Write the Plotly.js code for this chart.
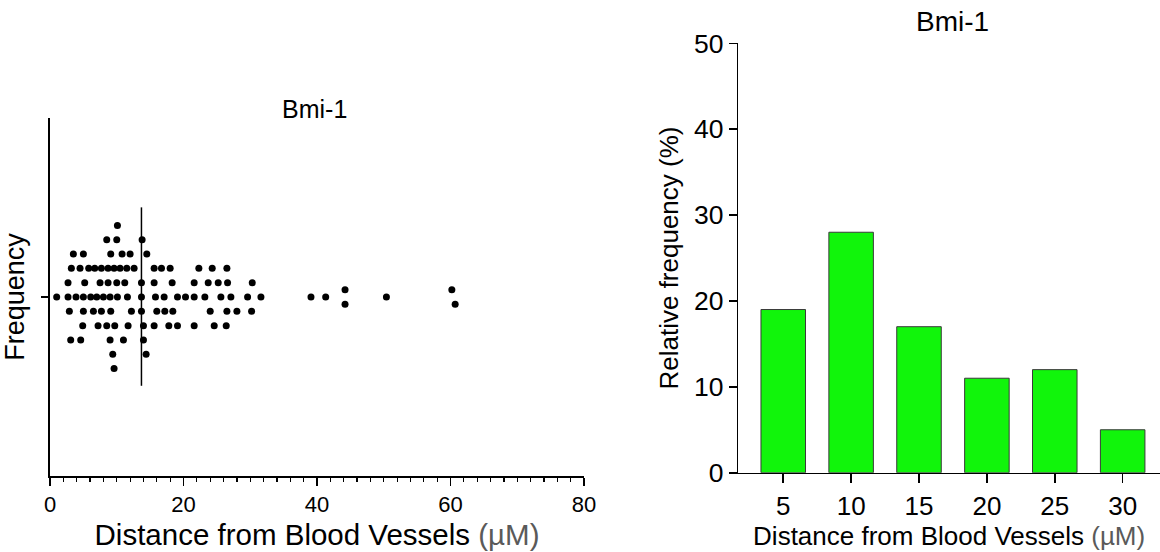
<!DOCTYPE html>
<html>
<head>
<meta charset="utf-8">
<script src="https://cdn.plot.ly/plotly-3.0.1.min.js"></script>
<style>html,body{margin:0;padding:0;background:#fff;}#chart{width:1160px;height:552px;}</style>
</head>
<body>
<div id="chart"></div>
<script>
// ---- Data ----
// Left: dot plot of individual distances (µM) and their stacking row in the swarm
const dotDistance = [
  10.1,
  8.5, 10.0, 13.8,
  3.5, 5.0, 9.1, 10.8, 12.0, 14.5,
  3.2, 4.5, 5.8, 6.7, 7.7, 8.7, 9.6, 10.5, 11.5, 12.6, 15.6, 16.7, 18.0, 22.3, 24.3, 26.5,
  2.7, 5.2, 7.5, 8.7, 10.0, 11.2, 13.7, 15.6, 18.3, 21.6, 23.7, 25.2, 26.6, 30.3,
  1.0, 2.7, 3.9, 5.0, 6.1, 7.0, 8.0, 9.0, 10.1, 11.6, 13.7, 15.8, 17.1, 19.1, 20.3, 21.6, 23.2, 25.6, 27.1, 29.6, 31.6, 39.1, 41.3, 50.4,
  44.2, 60.2,
  44.2, 60.7,
  2.9, 5.0, 6.5, 7.7, 9.1, 12.2, 13.7, 16.0, 17.2, 18.4, 24.0, 26.5, 28.0, 30.2,
  4.9, 7.2, 8.5, 9.7, 11.7, 14.0, 15.6, 17.8, 19.1, 21.6, 24.6, 26.4,
  3.1, 4.6, 9.0, 11.0, 14.0,
  9.4, 14.4,
  9.6
];
const dotRowCounts = [1, 3, 6, 16, 14, 24, 2, 2, 14, 12, 5, 2, 1];
const dotRowLevels = [5, 4, 3, 2, 1, 0, 0.5, -0.5, -1, -2, -3, -4, -5];
const medianDistance = 13.7;
const medianSpan = [-6.2, 6.26];

// Right: histogram of relative frequency
const binCenters = [5, 10, 15, 20, 25, 30];
const relFrequency = [19, 28, 17, 11, 12, 5];
const leftXTicks = [0, 20, 40, 60, 80];
const rightYTicks = [0, 10, 20, 30, 40, 50];

// expand row levels
const dotRow = [];
dotRowCounts.forEach((n, i) => { for (let k = 0; k < n; k++) dotRow.push(dotRowLevels[i]); });

const FONT = 'Liberation Sans, Arial, Helvetica, sans-serif';
const W = 1160, H = 552;
const px = v => v / W;
const py = v => 1 - v / H;

const traces = [
  {
    type: 'scatter', mode: 'markers', x: dotDistance, y: dotRow,
    xaxis: 'x', yaxis: 'y',
    marker: {color: '#000', size: 7, line: {width: 0}},
    hoverinfo: 'x', showlegend: false
  },
  {
    type: 'scatter', mode: 'lines', x: [medianDistance, medianDistance], y: medianSpan,
    xaxis: 'x', yaxis: 'y',
    line: {color: '#000', width: 1.5}, hoverinfo: 'skip', showlegend: false
  },
  {
    type: 'bar', x: binCenters, y: relFrequency, width: 3.28,
    xaxis: 'x2', yaxis: 'y2',
    marker: {color: '#11f50b', line: {color: '#3a3a3a', width: 1}},
    showlegend: false
  }
];

const axisCommon = {
  showgrid: false, zeroline: false, showline: true, linecolor: '#000', linewidth: 1.6,
  ticks: 'outside', tickcolor: '#000', tickwidth: 1.6, ticklen: 8,
  fixedrange: true
};

const layout = {
  width: W, height: H,
  margin: {l: 0, r: 0, t: 0, b: 0},
  paper_bgcolor: '#fff', plot_bgcolor: 'rgba(0,0,0,0)',
  font: {family: FONT, color: '#000'},
  showlegend: false,
  xaxis: Object.assign({}, axisCommon, {
    domain: [px(50), px(584)], range: [0, 80], anchor: 'y',
    tickvals: leftXTicks, tickfont: {size: 22, family: FONT},
    minor: {dtick: 2, tick0: 0, ticks: 'outside', ticklen: 4, tickwidth: 1.2, tickcolor: '#000'},
    title: {text: 'Distance from Blood Vessels <span style="color:#5a5a5a">(µM)</span>', font: {size: 29.5, family: FONT}, standoff: 8}
  }),
  yaxis: Object.assign({}, axisCommon, {
    domain: [py(476), py(118)], range: [-12.5, 12.5], anchor: 'x',
    tickvals: [0], showticklabels: false, ticklen: 7,
    title: {text: 'Frequency', font: {size: 27, family: FONT}, standoff: 12}
  }),
  xaxis2: Object.assign({}, axisCommon, {
    domain: [px(738.3), 1], range: [1.69, 32.75], anchor: 'y2',
    tickvals: binCenters, tickfont: {size: 26, family: FONT}, ticklen: 9,
    title: {text: 'Distance from Blood Vessels <span style="color:#5a5a5a">(µM)</span>', font: {size: 26, family: FONT}, standoff: 7}
  }),
  yaxis2: Object.assign({}, axisCommon, {
    domain: [py(472.7), py(43.3)], range: [0, 50], anchor: 'x2',
    tickvals: rightYTicks, tickfont: {size: 26.5, family: FONT}, ticklen: 8,
    title: {text: 'Relative frequency (%)', font: {size: 26, family: FONT}, standoff: 8}
  }),
  annotations: [
    {text: 'Bmi-1', xref: 'paper', yref: 'paper', x: px(314), y: py(109), xanchor: 'center', yanchor: 'middle',
     showarrow: false, font: {size: 25, family: FONT, color: '#000'}},
    {text: 'Bmi-1', xref: 'paper', yref: 'paper', x: px(953), y: py(21), xanchor: 'center', yanchor: 'middle',
     showarrow: false, font: {size: 28, family: FONT, color: '#000'}}
  ]
};

Plotly.newPlot('chart', traces, layout, {displayModeBar: false, staticPlot: true});
</script>
</body>
</html>
